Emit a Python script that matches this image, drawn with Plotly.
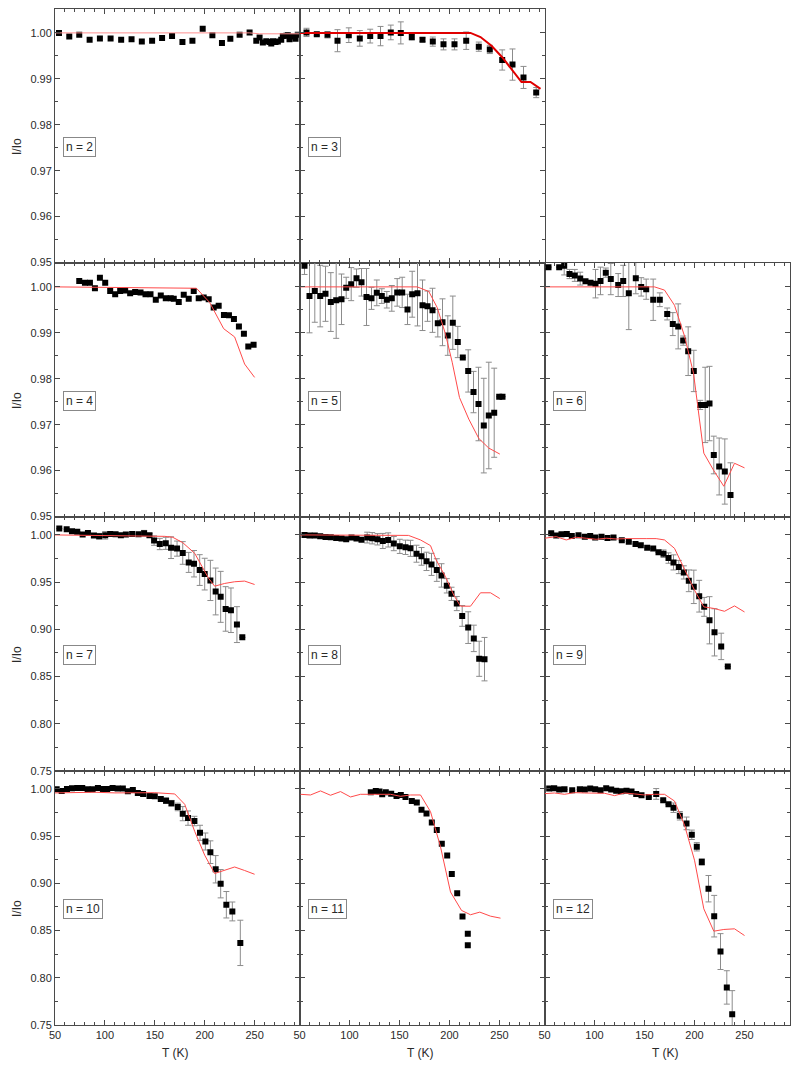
import plotly.graph_objects as go

# ---------------- data ----------------
n2_T = [54, 64.3, 74.3, 84.7, 95, 105.7, 116.3, 126.7, 137, 147.3, 157.3, 167.3, 177.7, 187.7, 198, 207.7,
        217.3, 225.7, 235, 245, 251.7, 255, 258.3, 261.7, 265, 266.7, 268.3, 271, 273.3, 276.7, 278.3, 281.7,
        283.3, 285, 287.7, 291, 293.3]
n2_I = [1.0, 0.9992, 0.9996, 0.9985, 0.9988, 0.9988, 0.9985, 0.9986, 0.9981, 0.9983, 0.9989, 0.9993, 0.998,
        0.9983, 1.0009, 0.9995, 0.9978, 0.9987, 0.9996, 1.0001, 0.9983, 0.999, 0.9979, 0.9982, 0.998, 0.9977,
        0.9982, 0.998, 0.9981, 0.9985, 0.9993, 0.9994, 0.9995, 0.9986, 0.9992, 0.9987, 0.9996]
n2_mT = [50, 245, 255, 295]
n2_mI = [1.0, 1.0, 0.9998, 0.9998]

n3_T = [57, 67.3, 78, 88, 99.3, 110.3, 120.7, 131, 141.3, 151.3, 162.3, 173, 183.3, 194, 205, 216.7, 229.3,
        240.3, 252.7, 263, 274, 286.7]
n3_I = [1.0001, 0.9997, 0.9996, 0.9983, 0.9995, 0.9988, 0.9993, 0.9993, 1.0001, 1.0, 0.9991, 0.9985, 0.9981,
        0.9975, 0.9975, 0.9983, 0.997, 0.9964, 0.9941, 0.9931, 0.9903, 0.987]
n3_E = [0.0009, 0.0003, 0.0007, 0.0024, 0.0016, 0.0017, 0.0015, 0.0021, 0.0016, 0.0024, 0.0007, 0.0004,
        0.001, 0.0012, 0.0012, 0.0019, 0.001, 0.0009, 0.0022, 0.0034, 0.0024, 0.0011]
n3_mT = [50, 221, 231, 242, 252.7, 263, 272, 281, 291]
n3_mI = [1.0, 1.0, 0.9991, 0.9972, 0.9947, 0.9918, 0.9893, 0.9893, 0.9878]

n4_T = [74.3, 80, 85, 90, 95, 100.3, 105.3, 110.3, 115.3, 120.3, 125.3, 130.3, 135.7, 140.7, 145.7, 151, 156,
        161, 166, 169, 174, 179, 184, 189, 194, 199, 204, 209, 214, 219.3, 224.3, 229.3, 234.3, 239.3, 243.7, 249]
n4_I = [1.0013, 1.0009, 1.0009, 0.9997, 1.002, 1.0009, 0.9991, 0.9984, 0.9991, 0.9992, 0.9986, 0.9989,
        0.9988, 0.9984, 0.9984, 0.9972, 0.9981, 0.9975, 0.9975, 0.9974, 0.9967, 0.9983, 0.9974, 0.9991,
        0.9975, 0.9977, 0.9973, 0.9955, 0.9959, 0.9939, 0.9938, 0.993, 0.9914, 0.9898, 0.987, 0.9874]
n4_mT = [50, 191.7, 205, 219, 230, 240, 250]
n4_mI = [1.0, 0.9997, 0.9966, 0.9909, 0.9891, 0.9832, 0.9803]

n5_T = [55, 60, 65.3, 70.7, 76, 81.3, 86.7, 92, 96.7, 101.7, 107, 112, 117, 122, 127.3, 132.3, 137.3, 142.3,
        147.7, 152.7, 158, 162.7, 168, 173, 178, 183, 188.3, 193, 198.3, 203.3, 208.3, 213.3, 218.7, 224, 229,
        234.3, 239.3, 244.7, 249.7, 253]
n5_I = [1.0046, 0.998, 0.9991, 0.998, 0.9985, 0.9967, 0.9971, 0.9973, 0.9998, 1.0006, 1.0019, 1.001, 0.9978,
        0.9975, 0.9987, 0.998, 0.9972, 0.9975, 0.9988, 0.9988, 0.9951, 0.9984, 0.9986, 0.996, 0.9958, 0.9949,
        0.9921, 0.9923, 0.9894, 0.9922, 0.988, 0.9846, 0.9817, 0.9771, 0.9745, 0.9698, 0.972, 0.9726, 0.9761,
        0.9761]
n5_E = [0.0019, 0.008, 0.0068, 0.0067, 0.006, 0.0064, 0.0083, 0.0055, 0.0023, 0.0036, 0.002, 0.003, 0.0062,
        0.0024, 0.0028, 0.0016, 0.0018, 0.0028, 0.003, 0.0033, 0.0033, 0.005, 0.0071, 0.0055, 0.0033, 0.0048,
        0.003, 0.0051, 0.0043, 0.0058, 0.0034, None, 0.0046, 0.0045, 0.008, 0.0103, 0.0116, 0.0097, None, None]
n5_mT = [50, 167.7, 179.3, 187.7, 196, 202.7, 210, 219.3, 229.3, 239.3, 250.3]
n5_mI = [1.0, 1.0, 0.999, 0.9955, 0.9897, 0.9836, 0.9759, 0.9712, 0.967, 0.9649, 0.9636]

n6_T = [54, 64.7, 69.7, 75, 80.3, 85.7, 91, 96, 101, 106, 111.3, 116.3, 123.7, 128.7, 134.3, 141.3, 146.7,
        151.7, 158.7, 165.3, 172.7, 178.3, 183.7, 188.7, 193.7, 199.3, 205.7, 210.7, 215, 219.3, 224.7, 230.3, 236]
n6_I = [1.0043, 1.0043, 1.0046, 1.0028, 1.0025, 1.0018, 1.0012, 1.0009, 1.0007, 1.0013, 1.0031, 1.0017,
        1.0004, 1.0013, 0.9986, 1.0019, 1.0, 0.9995, 0.9972, 0.9972, 0.9941, 0.9919, 0.9914, 0.9883, 0.986,
        0.9817, 0.9743, 0.9743, 0.9746, 0.9634, 0.9609, 0.9598, 0.9547]
n6_E = [None, None, 0.002, 0.001, 0.0013, 0.0014, None, None, 0.0031, 0.003, 0.001, 0.0034, 0.0025, 0.0034,
        0.0079, 0.0034, 0.002, 0.0022, 0.0045, 0.0015, 0.0013, 0.0025, 0.0049, 0.001, 0.0053, 0.0045, 0.001,
        0.0082, 0.0081, 0.0041, 0.0062, 0.0071, 0.007]
n6_mT = [50, 160, 170, 180, 190, 199, 209.3, 219.3, 229.3, 240, 250]
n6_mI = [1.0, 1.0, 0.9993, 0.996, 0.9893, 0.9812, 0.9638, 0.96, 0.9566, 0.9616, 0.9606]

n7_T = [54.3, 61.7, 67, 72.3, 77.7, 83, 89, 94.3, 100.3, 105.3, 110.7, 116, 121, 127.3, 133.7, 139.3, 144.7,
        149.3, 155, 161, 166.3, 172.3, 178, 184, 189.3, 195, 200, 205.7, 211, 216, 221, 226.3, 232.3, 237.7]
n7_I = [1.0067, 1.006, 1.0039, 1.0035, 1.0004, 1.0021, 0.9993, 0.9986, 0.9996, 1.0011, 1.0007, 0.9996, 1.0004,
        1.0011, 1.0007, 1.0018, 0.9996, 0.994, 0.9904, 0.9911, 0.9865, 0.9855, 0.9809, 0.9709, 0.9695, 0.9628,
        0.9585, 0.9518, 0.9401, 0.9344, 0.9216, 0.9202, 0.905, 0.8915]
n7_E = [None, None, None, None, None, None, 0.002, 0.003, 0.004, None, None, None, None, None, None, 0.003,
        0.002, 0.005, 0.006, 0.0064, 0.0115, 0.008, 0.012, 0.0106, 0.014, 0.0163, 0.0168, 0.0213, 0.0248,
        0.027, 0.0236, 0.0236, 0.019, None]
n7_mT = [50, 160, 168, 178, 190, 196.7, 204, 210, 220, 230, 240, 250]
n7_mI = [1.0, 0.9985, 0.9975, 0.9918, 0.9805, 0.9681, 0.9539, 0.9457, 0.9486, 0.9504, 0.9511, 0.9475]

n8_T = [55, 60, 65.3, 70.7, 76, 81.3, 86.7, 92, 96.7, 102, 107, 112, 117.7, 122.7, 128, 133.3, 138.7, 144.3,
        150.3, 156, 161, 167, 172, 177, 182, 187.3, 192, 197.3, 202, 207.3, 212.7, 218.7, 224.3, 229.7, 235]
n8_I = [1.0, 0.9993, 0.9993, 0.9986, 0.9979, 0.9975, 0.9968, 0.9961, 0.9954, 0.9972, 0.9961, 0.995, 0.9972,
        0.9965, 0.9954, 0.9936, 0.9947, 0.9908, 0.9879, 0.9869, 0.9858, 0.9801, 0.9773, 0.972, 0.9688, 0.9628,
        0.9571, 0.9461, 0.9376, 0.9273, 0.9142, 0.9018, 0.8904, 0.8688, 0.8684]
n8_E = [None] * 12 + [0.0057, 0.006, 0.006, 0.008, 0.0075, 0.0075, 0.0075, 0.0076, 0.0085, 0.009, 0.0094,
                      0.0097, 0.0117, 0.012, 0.0124, 0.0076, 0.007, 0.0075, 0.011, 0.0168, 0.014, 0.0186, 0.023]
n8_mT = [50, 159, 171, 181, 186.7, 196, 204.3, 211, 221, 231, 241, 250.3]
n8_mI = [1.0, 0.9995, 0.9947, 0.9887, 0.9734, 0.9557, 0.9362, 0.9245, 0.9245, 0.9387, 0.9387, 0.9326]

n9_T = [56.7, 61.7, 67, 72.3, 77.3, 84, 90.3, 95.7, 100.7, 107, 113, 119, 127.3, 134.3, 141, 146.3, 152.7,
        158.7, 164, 169, 174, 179, 184.3, 189.3, 194.3, 199.3, 204.7, 209.7, 215, 220, 226.7, 233.3]
n9_I = [1.0018, 0.9993, 1.0007, 1.0011, 0.9989, 0.9996, 0.9982, 0.9989, 0.9972, 0.9982, 0.9968, 0.9972,
        0.9943, 0.9929, 0.9904, 0.989, 0.9865, 0.9855, 0.9816, 0.9801, 0.9755, 0.9709, 0.966, 0.9603, 0.9514,
        0.945, 0.9351, 0.9238, 0.9096, 0.8968, 0.8819, 0.8606]
n9_E = [None] * 19 + [0.004, 0.0055, 0.008, 0.007, 0.007, 0.0115, 0.0177, 0.0168, 0.01, 0.025, 0.025, 0.014, None]
n9_mT = [50, 61.7, 71.7, 81.7, 91.7, 101.7, 111.7, 121.7, 131.7, 141.7, 151.7, 161.7, 170, 180, 190, 200,
         209.3, 220, 230, 240, 250]
n9_mI = [0.9965, 0.9982, 0.9947, 0.9975, 0.9965, 0.9954, 0.9965, 0.9957, 0.9961, 0.9957, 0.9961, 0.9961,
         0.9947, 0.9858, 0.9628, 0.9415, 0.9238, 0.922, 0.9191, 0.9248, 0.9184]

n10_T = [51.7, 56.7, 62, 67, 72.3, 77.3, 82.7, 87.7, 93, 98, 102.3, 107.7, 112.7, 118, 123, 128, 133, 138.3,
         144.7, 150, 156, 161.3, 166.7, 173, 178, 183.3, 189.7, 195.3, 200.7, 205.7, 211, 216, 221.7, 227.7, 235.7]
n10_I = [0.9996, 0.9979, 1.0, 1.0007, 1.0011, 1.0011, 0.9996, 0.9996, 1.0011, 1.0, 1.0, 1.0011, 1.0004, 1.0004,
         0.9975, 0.9989, 0.9957, 0.9947, 0.9926, 0.9922, 0.9894, 0.9876, 0.9848, 0.9809, 0.9738, 0.9691, 0.966,
         0.9535, 0.9443, 0.933, 0.9149, 0.8996, 0.8773, 0.8702, 0.8369]
n10_E = [None] * 21 + [0.003, 0.003, 0.004, 0.0075, 0.0076, 0.005, 0.008, 0.009, 0.012, 0.0145, 0.015, 0.014,
                       0.01, 0.024]
n10_mT = [50, 90, 110, 130, 150, 170, 180, 190, 200, 210, 220, 230, 240, 250]
n10_mI = [0.9958, 0.9965, 0.9958, 0.9962, 0.996, 0.9947, 0.9837, 0.955, 0.9298, 0.9104, 0.9136, 0.9173, 0.9136, 0.9096]

n11_T = [121.3, 126.3, 130, 132.7, 136.3, 141.7, 147, 151.3, 156, 162.3, 167.3, 172, 177, 182.3, 187.3, 192.3,
         197.7, 202.3, 207.7, 213, 218.3, 218.3]
n11_I = [0.9965, 0.9979, 0.9972, 0.9943, 0.9965, 0.995, 0.9926, 0.9936, 0.9915, 0.9872, 0.9855, 0.978, 0.9741,
         0.9645, 0.9564, 0.9418, 0.9294, 0.9099, 0.8894, 0.8649, 0.8465, 0.8344]
n11_mT = [51, 61, 71, 81, 91, 101, 111, 121, 131, 141, 151, 161, 171, 181, 191, 201, 212, 221, 230.3, 241, 251]
n11_mI = [0.9943, 0.9936, 0.9979, 0.9933, 0.9972, 0.9915, 0.9943, 0.9943, 0.9936, 0.9943, 0.9922, 0.9936,
          0.9936, 0.9759, 0.9387, 0.8908, 0.8713, 0.8667, 0.8695, 0.8652, 0.8631]

n12_T = [54.7, 59.7, 64.7, 70, 77.7, 85.3, 90.3, 95.7, 100.7, 106, 111.7, 116.7, 121.7, 126.7, 132, 137, 141.7,
         147, 154.3, 161.7, 168.7, 174, 179, 185.3, 192, 197.3, 202.3, 207.3, 214, 219.7, 226, 232.3, 237.7]
n12_I = [1.0004, 1.0007, 0.9993, 0.9996, 0.9986, 0.9996, 0.9993, 1.0004, 0.9996, 0.9986, 1.0007, 0.9993,
         0.9982, 0.9975, 0.9982, 0.9972, 0.9947, 0.9933, 0.9915, 0.9947, 0.9879, 0.9837, 0.9801, 0.9716, 0.9635,
         0.9514, 0.9387, 0.9227, 0.8943, 0.8652, 0.8277, 0.7897, 0.7613]
n12_E = [None] * 19 + [0.0057, None, None, 0.005, 0.0045, 0.0067, 0.005, 0.0044, 0.0035, 0.014, 0.022, 0.019,
                       0.0177, 0.025]
n12_mT = [50, 60, 70, 80, 90, 100, 110, 120, 130, 140, 150, 160, 170, 180, 190, 200, 209.3, 219.3, 229.3, 240, 250]
n12_mI = [0.995, 0.9957, 0.9943, 0.9961, 0.9957, 0.9957, 0.9954, 0.9929, 0.9957, 0.9947, 0.9936, 0.9943,
          0.9943, 0.9872, 0.9617, 0.9245, 0.873, 0.8493, 0.8511, 0.8518, 0.8447]

panel_labels = ["n = 2", "n = 3", "n = 4", "n = 5", "n = 6", "n = 7", "n = 8", "n = 9", "n = 10", "n = 11", "n = 12"]

# ---------------- layout ----------------
# the page body has an 8 px margin, so the figure is placed 8 px in from the page edge
OFF = 8
W, H = 800 - 2 * OFF, 1069 - 2 * OFF
col_px = [(55, 299.5), (299.5, 544.5), (544.5, 789.5)]      # page pixels
row_px = [(9, 263), (263, 517), (517, 771), (771, 1025)]    # page pixels
row_yrange = [[0.9499, 1.0052], [0.9499, 1.0052], [0.7499, 1.019], [0.7499, 1.019]]
row_dtick = [0.01, 0.01, 0.05, 0.05]


def px(x):
    return (x - OFF) / W


def py(y):
    return 1 - (y - OFF) / H


panels = [
    (0, 0, n2_T, n2_I, None, n2_mT, n2_mI),
    (0, 1, n3_T, n3_I, n3_E, n3_mT, n3_mI),
    (1, 0, n4_T, n4_I, None, n4_mT, n4_mI),
    (1, 1, n5_T, n5_I, n5_E, n5_mT, n5_mI),
    (1, 2, n6_T, n6_I, n6_E, n6_mT, n6_mI),
    (2, 0, n7_T, n7_I, n7_E, n7_mT, n7_mI),
    (2, 1, n8_T, n8_I, n8_E, n8_mT, n8_mI),
    (2, 2, n9_T, n9_I, n9_E, n9_mT, n9_mI),
    (3, 0, n10_T, n10_I, n10_E, n10_mT, n10_mI),
    (3, 1, n11_T, n11_I, None, n11_mT, n11_mI),
    (3, 2, n12_T, n12_I, n12_E, n12_mT, n12_mI),
]

FONT = "Liberation Sans, Arial, sans-serif"
AX = "#4a4a4a"
TXT = "#2a2a2a"
fig = go.Figure()
layout = dict(width=W, height=H, margin=dict(l=0, r=0, t=0, b=0, autoexpand=False), showlegend=False,
              plot_bgcolor="white", paper_bgcolor="white", font=dict(family=FONT, size=11, color=TXT))
annotations = []

for i, (r, c, T, I, E, mT, mI) in enumerate(panels):
    k = i + 1
    xs = "" if k == 1 else str(k)
    x0, x1 = col_px[c]
    y0, y1 = row_px[r]
    layout["xaxis" + xs] = dict(
        domain=[px(x0), px(x1)], anchor="y" + xs, range=[50, 295], dtick=50, tick0=0, automargin=False,
        ticks="inside", ticklen=5, tickwidth=1, tickcolor=AX, mirror="allticks",
        showline=True, linecolor=AX, linewidth=1, showgrid=False, zeroline=False,
        showticklabels=(r == 3), tickfont=dict(size=11, color=TXT, family=FONT),
        minor=dict(dtick=10, ticks="inside", ticklen=3, tickcolor=AX, showgrid=False))
    layout["yaxis" + xs] = dict(
        domain=[py(y1), py(y0)], anchor="x" + xs, range=row_yrange[r], dtick=row_dtick[r], tick0=0,
        tickformat=".2f", automargin=False,
        ticks="inside", ticklen=5, tickwidth=1, tickcolor=AX, mirror="allticks",
        showline=True, linecolor=AX, linewidth=1, showgrid=False, zeroline=False,
        showticklabels=(c == 0), tickfont=dict(size=11, color=TXT, family=FONT),
        minor=dict(dtick=row_dtick[r] / 2, ticks="inside", ticklen=3, tickcolor=AX, showgrid=False))

    err = None
    if E is not None:
        err = dict(type="data", array=E, visible=True, color="#8c8c8c", thickness=1, width=3)
    fig.add_trace(go.Scatter(x=T, y=I, mode="markers", xaxis="x" + xs, yaxis="y" + xs,
                             marker=dict(symbol="square", size=6, color="black"), error_y=err))
    lw = 2 if k == 2 else 1
    lc = "#e00000" if k == 2 else ("#ff9090" if k == 1 else "#ff4a4a")
    fig.add_trace(go.Scatter(x=mT, y=mI, mode="lines", xaxis="x" + xs, yaxis="y" + xs,
                             line=dict(color=lc, width=lw)))

    annotations.append(dict(text=panel_labels[i], xref="paper", yref="paper",
                            x=px(x0 + 8), y=py(y0 + 138), xanchor="left", yanchor="middle",
                            showarrow=False, font=dict(size=12, color=TXT, family=FONT),
                            bordercolor="#888", borderwidth=1, borderpad=2, bgcolor="white"))

for r in range(4):
    y0, y1 = row_px[r]
    annotations.append(dict(text="I/Io", xref="paper", yref="paper", x=px(17), y=py((y0 + y1) / 2 + 11),
                            xanchor="center", yanchor="middle", textangle=-90, showarrow=False,
                            font=dict(size=12, color=TXT, family=FONT)))
for c in range(3):
    x0, x1 = col_px[c]
    annotations.append(dict(text="T (K)", xref="paper", yref="paper", x=px((x0 + x1) / 2 - 2), y=py(1053),
                            xanchor="center", yanchor="middle", showarrow=False,
                            font=dict(size=12, color=TXT, family=FONT)))

layout["annotations"] = annotations
fig.update_layout(**layout)
fig.write_html("out.html")
